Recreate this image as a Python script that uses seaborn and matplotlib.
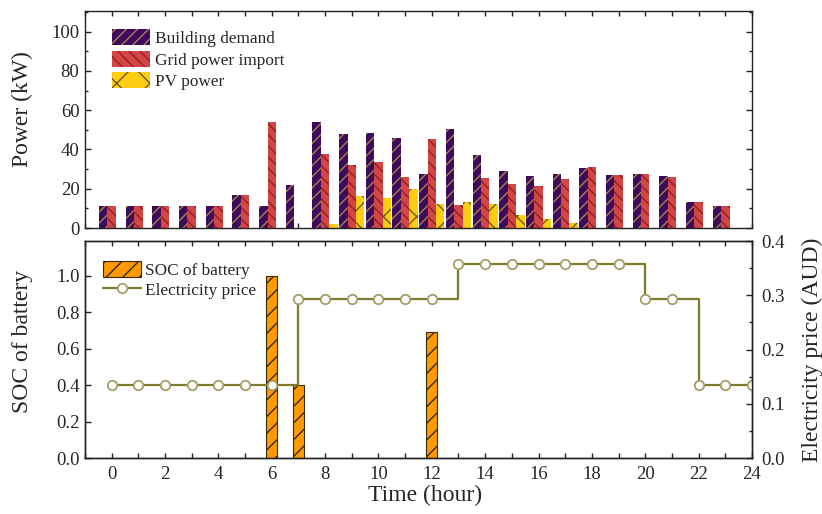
import matplotlib
matplotlib.use("Agg")
import matplotlib.pyplot as plt
from matplotlib.ticker import MultipleLocator, NullFormatter, FormatStrFormatter
import pandas as pd
import seaborn as sns

# Hourly energy data
hours = [0, 1, 2, 3, 4, 5, 6, 7, 8, 9, 10, 11, 12, 13, 14, 15, 16, 17, 18, 19, 20, 21, 22, 23]
building_demand = [11, 11, 11, 11, 11, 17, 11.2, 22, 54.2, 47.8, 48.5, 46, 27.5, 50.5,
                   37.3, 29.2, 26.4, 27.3, 30.7, 27, 27.6, 26.3, 13, 11]
grid_import = [11, 11, 11, 11, 11, 17, 54.2, 0, 37.8, 32, 33.4, 25.8, 45.4, 11.9,
               25.4, 22.4, 21.5, 24.9, 31.2, 27, 27.6, 25.8, 13, 11]
pv_power = [0, 0, 0, 0, 0, 0, 0, 0, 2.2, 16.1, 15.3, 20, 12.2, 13.2,
            12, 6.4, 4.4, 2.5, 0.2, 0.2, 0, 0, 0, 0]
soc = [0, 0, 0, 0, 0, 0, 1.0, 0.4, 0, 0, 0, 0, 0.69, 0,
       0, 0, 0, 0, 0, 0, 0, 0, 0, 0]
price_hours = [0, 1, 2, 3, 4, 5, 6, 7, 8, 9, 10, 11, 12, 13, 14, 15, 16, 17, 18, 19,
               20, 21, 22, 23, 24]
price = [0.135, 0.135, 0.135, 0.135, 0.135, 0.135, 0.135,
         0.293, 0.293, 0.293, 0.293, 0.293, 0.293,
         0.357, 0.357, 0.357, 0.357, 0.357, 0.357, 0.357,
         0.293, 0.293,
         0.135, 0.135, 0.135]
series_names = ["Building demand", "Grid power import", "PV power"]
xtick_labels = ["0", "2", "4", "6", "8", "10", "12", "14", "16", "18", "20", "22", "24"]

sns.set_theme(style="ticks")
plt.rcParams["font.family"] = ["Liberation Serif", "DejaVu Serif"]
plt.rcParams["hatch.linewidth"] = 1.0
plt.rcParams["axes.linewidth"] = 1.0
plt.rcParams["axes.edgecolor"] = "#222222"

fig = plt.figure(figsize=(8.22, 5.14), dpi=100)
ax1 = fig.add_axes([0.1034, 0.5564, 0.8114, 0.4222])
ax2 = fig.add_axes([0.1034, 0.1089, 0.8114, 0.4222])

# ---- Power panel ----
power_df = pd.DataFrame({
    "hour": hours * 3,
    "power": building_demand + grid_import + pv_power,
    "series": [series_names[0]] * len(hours) + [series_names[1]] * len(hours)
              + [series_names[2]] * len(hours),
})
bar_colors = ["#3e0a5e", "#d64545", "#ffcc14"]
hatch_colors = ["#a8804a", "#8a2222", "#6b5a10"]
hatches = ["///", "\\\\\\", "x"]
sns.barplot(data=power_df, x="hour", y="power", hue="series", hue_order=series_names,
            palette=bar_colors, width=0.95, saturation=1, errorbar=None,
            native_scale=True, legend=False, linewidth=0, ax=ax1)
for cont, h, hc in zip(ax1.containers, hatches, hatch_colors):
    for p in cont:
        p.set_hatch(h)
        p.set_edgecolor(hc)
        p.set_linewidth(0)

ax1.set_xlim(-1, 24)
ax1.set_ylim(0, 110.5)
ax1.yaxis.set_major_locator(MultipleLocator(20))
ax1.yaxis.set_minor_locator(MultipleLocator(10))
ax1.xaxis.set_major_locator(MultipleLocator(1))
ax1.xaxis.set_major_formatter(NullFormatter())
ax1.set_xlabel("")
ax1.set_ylabel("Power (kW)", fontsize=17)
ax1.yaxis.set_label_coords(-0.078, 0.55)
ax1.tick_params(axis="both", which="both", direction="in", top=True, right=True,
                color="#222222")
ax1.tick_params(axis="y", which="major", length=4, width=1.0, labelsize=13.5, pad=4)
ax1.tick_params(axis="y", which="minor", length=2.5, width=1.0)
ax1.tick_params(axis="x", which="major", length=3.5, width=1.0, labelbottom=False)
ax1.legend(ax1.containers, series_names, loc="upper left",
           bbox_to_anchor=(0.041, 0.915), frameon=False, fontsize=12.4,
           handlelength=2.2, handleheight=1.05, handletextpad=0.25,
           labelspacing=0.2, borderpad=0, borderaxespad=0)

# ---- SOC / price panel ----
soc_df = pd.DataFrame({"hour": hours, "soc": soc})
sns.barplot(data=soc_df, x="hour", y="soc", color="#ff9a00", width=0.4, saturation=1,
            errorbar=None, native_scale=True, edgecolor="#3a2a10", linewidth=0.8, ax=ax2)
for p in ax2.containers[0]:
    p.set_hatch("//")

ax3 = ax2.twinx()
sns.lineplot(x=price_hours, y=price, ax=ax3, color="#7f7a2c", linewidth=1.6,
             drawstyle="steps-post", marker="o", markersize=6.8,
             markerfacecolor="white", markeredgecolor="#a49d68",
             markeredgewidth=1.3, legend=False)
price_line = ax3.lines[0]

ax2.set_xlim(-1, 24)
ax2.set_ylim(0, 1.19)
ax3.set_ylim(0, 0.4)
ax2.set_xticks(price_hours[::2])
ax2.set_xticklabels(xtick_labels)
ax2.xaxis.set_minor_locator(MultipleLocator(1))
ax2.yaxis.set_major_locator(MultipleLocator(0.2))
ax2.yaxis.set_major_formatter(FormatStrFormatter("%.1f"))
ax3.yaxis.set_major_locator(MultipleLocator(0.1))
ax3.yaxis.set_minor_locator(MultipleLocator(0.05))
ax3.yaxis.set_major_formatter(FormatStrFormatter("%.1f"))

ax2.tick_params(axis="both", which="both", direction="in", top=True, right=False,
                color="#222222")
ax2.tick_params(axis="x", which="major", length=3.5, width=1.0, labelsize=13.5, pad=6)
ax2.tick_params(axis="x", which="minor", length=3.5, width=1.0)
ax2.tick_params(axis="y", which="major", length=4, width=1.0, labelsize=13.5, pad=4)
ax3.tick_params(axis="y", which="both", direction="in", color="#222222")
ax3.tick_params(axis="y", which="major", length=4, width=1.0, labelsize=13.5, pad=7)
ax3.tick_params(axis="y", which="minor", length=2.5, width=1.0)

ax2.set_xlabel("Time (hour)", fontsize=17)
ax2.xaxis.set_label_coords(0.51, -0.125)
ax2.set_ylabel("SOC of battery", fontsize=17)
ax2.yaxis.set_label_coords(-0.078, 0.537)
ax3.set_ylabel("Electricity price (AUD)", fontsize=17)
ax3.yaxis.set_label_coords(1.074, 0.5)

ax3.legend([ax2.containers[0], price_line], ["SOC of battery", "Electricity price"],
           loc="upper left", bbox_to_anchor=(0.027, 0.91), frameon=False,
           fontsize=12.4, handlelength=2.2, handleheight=1.1, handletextpad=0.25,
           labelspacing=0.15, borderpad=0, borderaxespad=0)

fig.savefig("out.png", dpi=100, facecolor="white")
